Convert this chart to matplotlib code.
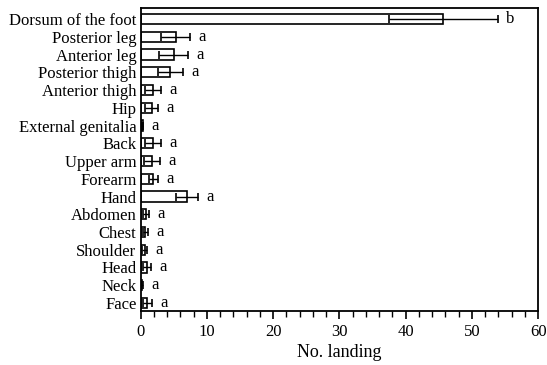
import matplotlib
matplotlib.use("Agg")
from matplotlib import pyplot as plt
from matplotlib.ticker import MultipleLocator
import numpy as np

plt.rcParams['font.family'] = ['Liberation Serif', 'DejaVu Serif']

sites = ['Dorsum of the foot', 'Posterior leg', 'Anterior leg', 'Posterior thigh',
         'Anterior thigh', 'Hip', 'External genitalia', 'Back', 'Upper arm',
         'Forearm', 'Hand', 'Abdomen', 'Chest', 'Shoulder', 'Head', 'Neck', 'Face']
means = [45.7, 5.3, 5.0, 4.5, 1.9, 1.7, 0.3, 1.9, 1.7, 1.9, 7.0, 0.8, 0.7, 0.6, 1.0, 0.2, 1.0]
errs = [8.2, 2.2, 2.2, 1.9, 1.2, 1.0, 0.1, 1.2, 1.2, 0.7, 1.7, 0.5, 0.4, 0.4, 0.6, 0.1, 0.7]
letters = ['b'] + ['a'] * 16

y = np.arange(len(sites))[::-1]

fig = plt.figure(figsize=(5.47, 3.65), dpi=100)
ax = fig.add_axes([0.257, 0.148, 0.727, 0.83])

ax.barh(y, means, height=0.58, color='white', edgecolor='black', linewidth=1.2)
ax.errorbar(means, y, xerr=errs, fmt='none', ecolor='black', elinewidth=1.0,
            capsize=3, capthick=1.2)
for yi, m, e, t in zip(y, means, errs, letters):
    ax.annotate(t, (m + e, yi), xytext=(6, 0), textcoords='offset points',
                va='center', ha='left', fontsize=12)

ax.set_xlim(0, 60)
ax.set_ylim(-0.45, 16.62)
ax.set_yticks(y)
ax.set_yticklabels(sites, fontsize=12)
ax.tick_params(axis='y', length=0, pad=3)
ax.xaxis.set_major_locator(MultipleLocator(10))
ax.xaxis.set_minor_locator(MultipleLocator(2))
ax.tick_params(axis='x', which='major', length=6, width=1.2, labelsize=12)
ax.tick_params(axis='x', which='minor', length=4, width=1.0)
ax.set_xlabel('No. landing', fontsize=13, labelpad=3)
for s in ax.spines.values():
    s.set_linewidth(1.3)

fig.savefig('out.png', dpi=100)
